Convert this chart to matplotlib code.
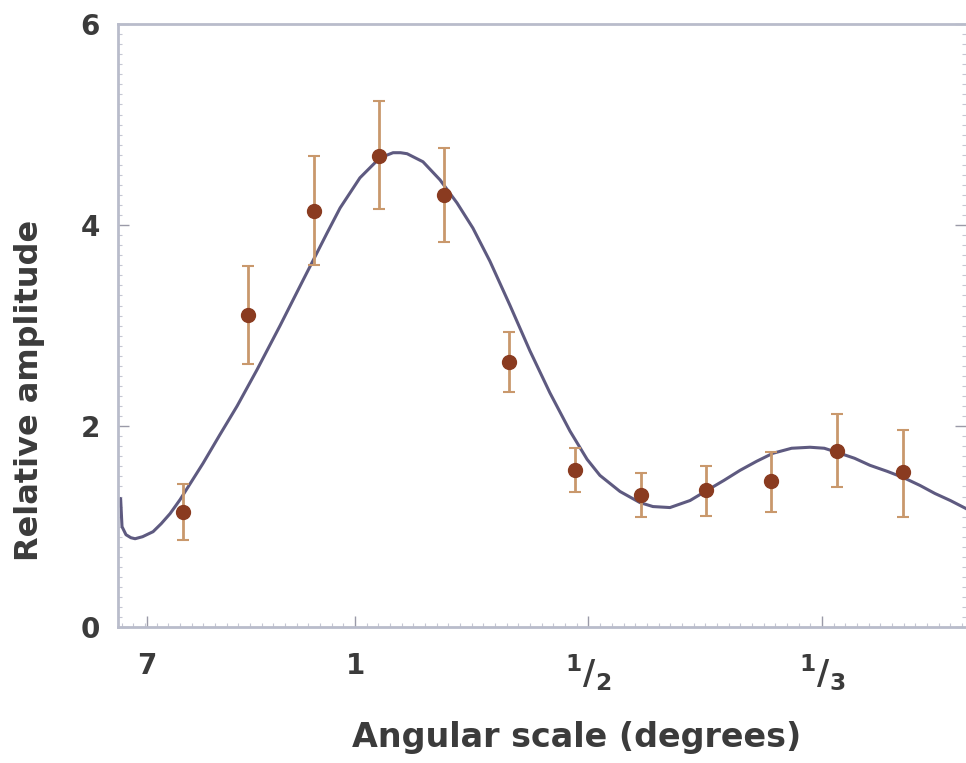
import numpy as np
import matplotlib
matplotlib.use("Agg")
import matplotlib.pyplot as plt
from matplotlib.ticker import MultipleLocator

# x is inverse angular scale (1/degrees), so 1, 1/2, 1/3 sit evenly
pos = [0.263, 0.542, 0.824, 1.103, 1.381, 1.660, 1.942, 2.225, 2.503, 2.782, 3.064, 3.347]
amp = [1.15, 3.11, 4.14, 4.69, 4.30, 2.64, 1.56, 1.31, 1.36, 1.45, 1.75, 1.54]
err_hi = [1.42, 3.59, 4.69, 5.23, 4.77, 2.94, 1.78, 1.53, 1.60, 1.74, 2.12, 1.96]
err_lo = [0.87, 2.62, 3.60, 4.16, 3.83, 2.34, 1.34, 1.10, 1.11, 1.15, 1.39, 1.10]

# model curve
curve_x = [-0.011, -0.004, 0.002, 0.019, 0.040, 0.058, 0.090, 0.135, 0.170, 0.208, 0.251,
           0.300, 0.349, 0.420, 0.495, 0.580, 0.679, 0.777, 0.880, 0.936, 1.021, 1.094,
           1.130, 1.163, 1.195, 1.223, 1.291, 1.364, 1.437, 1.505, 1.578, 1.664, 1.749,
           1.835, 1.921, 1.994, 2.049, 2.135, 2.220, 2.276, 2.349, 2.435, 2.507, 2.580,
           2.649, 2.720, 2.790, 2.870, 2.949, 3.010, 3.064, 3.140, 3.206, 3.280, 3.347,
           3.420, 3.484, 3.550, 3.617]
curve_y = [1.21, 1.28, 1.00, 0.92, 0.89, 0.88, 0.90, 0.95, 1.03, 1.13, 1.27,
           1.45, 1.63, 1.91, 2.20, 2.56, 3.00, 3.45, 3.92, 4.17, 4.47, 4.64,
           4.69, 4.72, 4.72, 4.71, 4.63, 4.45, 4.22, 3.97, 3.64, 3.20, 2.75,
           2.33, 1.95, 1.67, 1.51, 1.35, 1.24, 1.20, 1.19, 1.26, 1.36, 1.46,
           1.56, 1.65, 1.73, 1.78, 1.79, 1.78, 1.74, 1.68, 1.61, 1.55, 1.49,
           1.41, 1.33, 1.26, 1.18]

tick_pos = [0.109, 1, 2, 3]
tick_lab = ["7", "1", r"$^{\mathbf{1}}\mathbf{/}_{\mathbf{2}}$",
            r"$^{\mathbf{1}}\mathbf{/}_{\mathbf{3}}$"]

txt = "#3b3b3b"
spine = "#b9bccb"

fig = plt.figure(figsize=(9.66, 7.63), dpi=100)
ax = fig.add_axes([0.1222, 0.178, 0.8778, 0.7905])

ax.plot(curve_x, curve_y, color="#5e5a80", lw=2.2, zorder=2)
yerr = [np.array(amp) - np.array(err_lo), np.array(err_hi) - np.array(amp)]
ax.errorbar(pos, amp, yerr=yerr, fmt="o", color="#8a3b20", ms=10,
            ecolor="#c9986c", elinewidth=2, capsize=4, capthick=1.5, zorder=3)

ax.set_xlim(-0.015, 3.617)
ax.set_ylim(0, 6)

ax.set_xticks(tick_pos)
ax.set_xticklabels(tick_lab)
ax.set_yticks([0, 2, 4, 6])
ax.xaxis.set_minor_locator(MultipleLocator(0.05))
ax.yaxis.set_minor_locator(MultipleLocator(0.1))

ax.tick_params(axis="both", which="major", direction="in", length=8, width=1,
               color="#9a9aa8", labelcolor=txt, labelsize=20)
ax.tick_params(axis="both", which="minor", direction="in", length=3, width=0.8,
               color="#c5c7d3")
ax.tick_params(axis="y", which="both", right=True, pad=13)
ax.tick_params(axis="x", which="major", pad=18)
for lab in ax.get_xticklabels() + ax.get_yticklabels():
    lab.set_fontweight("bold")
for lab in ax.get_xticklabels()[2:]:
    lab.set_fontsize(24)

for s in ["left", "top", "bottom"]:
    ax.spines[s].set_color(spine)
    ax.spines[s].set_linewidth(2)
ax.spines["right"].set_visible(False)

ax.set_xlabel("Angular scale (degrees)", fontsize=24, fontweight="bold", color=txt)
ax.xaxis.set_label_coords(0.541, -0.155)
ax.set_ylabel("Relative amplitude", fontsize=23, fontweight="bold", color=txt)
ax.yaxis.set_label_coords(-0.086, 0.393)

fig.savefig("out.png", dpi=100, facecolor="white")
